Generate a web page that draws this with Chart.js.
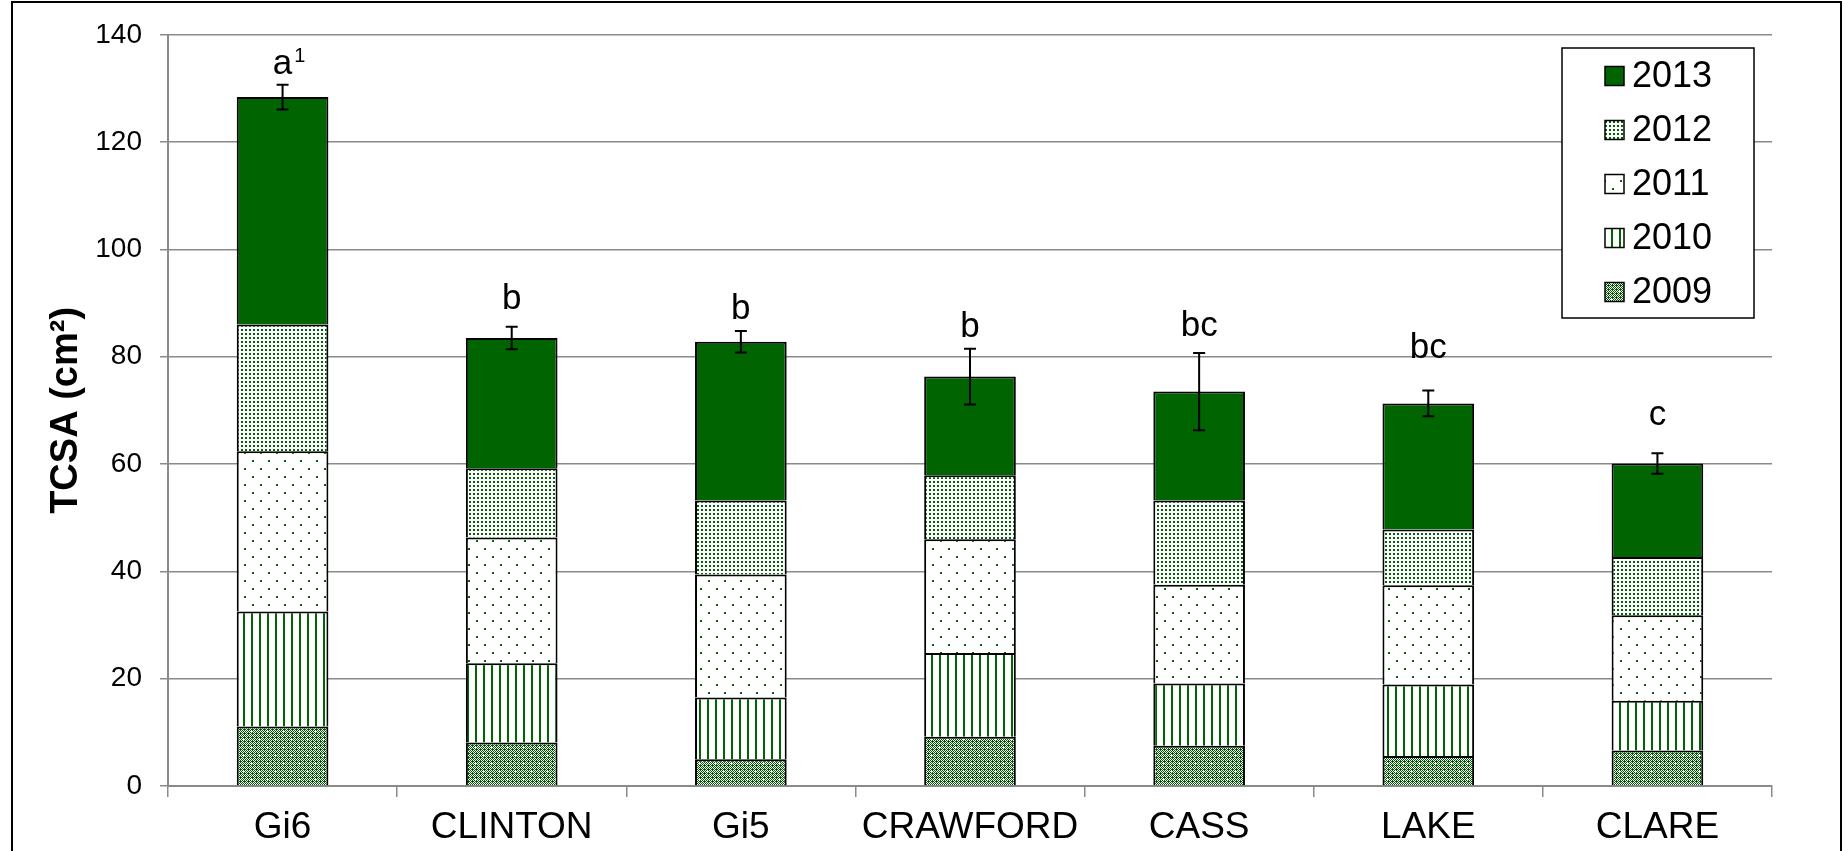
<!DOCTYPE html>
<html>
<head>
<meta charset="utf-8">
<title>TCSA by cultivar</title>
<script src="https://cdn.jsdelivr.net/npm/chart.js@4.4.1/dist/chart.umd.min.js"></script>
<style>
  html, body { margin: 0; padding: 0; background: #fff; }
  canvas { display: block; }
</style>
</head>
<body>
<canvas id="c" width="1845" height="851"></canvas>
<script>
// Categories (cultivars / sources) and yearly TCSA growth increments (cm²)
const categories = ['Gi6', 'CLINTON', 'Gi5', 'CRAWFORD', 'CASS', 'LAKE', 'CLARE'];
const years = ['2009', '2010', '2011', '2012', '2013'];
const growth2009 = [11.1, 8.1, 5.0, 9.2, 7.5, 5.6, 6.6];
const growth2010 = [21.4, 14.8, 11.5, 15.6, 11.6, 13.3, 9.3];
const growth2011 = [29.9, 23.4, 22.9, 21.2, 18.4, 18.5, 15.9];
const growth2012 = [23.6, 12.9, 13.8, 11.9, 15.7, 10.4, 10.9];
const growth2013 = [42.4, 24.3, 29.6, 18.4, 20.3, 23.5, 17.4];
// Standard error of the final total, and mean-separation letters
const stdErr = [2.3, 2.1, 2.0, 5.2, 7.2, 2.4, 1.9];
const letters = ['a', 'b', 'b', 'b', 'bc', 'bc', 'c'];
const letterNotes = ['1', '', '', '', '', '', ''];
const yTickValues = [0, 20, 40, 60, 80, 100, 120, 140];

const FONT = "'Liberation Sans', Arial, Helvetica, sans-serif";
const GREEN = '#006400';
const GRID = '#8a8a8a';

const canvas = document.getElementById('c');
const mainCtx = canvas.getContext('2d');

function tilePattern(w, h, paint) {
  const t = document.createElement('canvas');
  t.width = w; t.height = h;
  const g = t.getContext('2d');
  g.fillStyle = '#ffffff';
  g.fillRect(0, 0, w, h);
  paint(g);
  return mainCtx.createPattern(t, 'repeat');
}

// 2009: fine checkerboard with sparse white flecks
const pat2009 = tilePattern(16, 16, g => {
  g.fillStyle = '#005800';
  for (let y = 0; y < 16; y++) for (let x = 0; x < 16; x++) {
    if ((x + y) % 2 === 0 || (y % 4 === 1 && x % 4 === 0)) g.fillRect(x, y, 1, 1);
  }
  g.fillStyle = '#ffffff';
  g.fillRect(3, 3, 2, 1);
  g.fillRect(11, 11, 2, 1);
});
// 2010: vertical stripes
const pat2010 = tilePattern(8, 4, g => { g.fillStyle = GREEN; g.fillRect(3, 0, 2, 4); });
// 2011: sparse staggered dots
const pat2011 = tilePattern(16, 16, g => {
  g.fillStyle = GREEN;
  g.fillRect(4, 4, 2, 2);
  g.fillRect(12, 12, 2, 2);
});
// 2012: dense dot grid
const pat2012 = tilePattern(4, 4, g => { g.fillStyle = GREEN; g.fillRect(1, 1, 2, 2); });

const series = [growth2009, growth2010, growth2011, growth2012, growth2013];
const fills = [pat2009, pat2010, pat2011, pat2012, GREEN];

const datasets = series.map((vals, i) => ({
  label: years[i],
  data: vals,
  backgroundColor: fills[i],
  borderColor: '#000000',
  borderWidth: 2,
  barPercentage: 0.4,
  categoryPercentage: 1.0
}));

// White page plus the outer frame
const framePlugin = {
  id: 'frame',
  beforeDraw(chart) {
    const ctx = chart.ctx;
    ctx.save();
    ctx.fillStyle = '#ffffff';
    ctx.fillRect(0, 0, chart.width, chart.height);
    ctx.restore();
  },
  afterDraw(chart) {
    const ctx = chart.ctx;
    ctx.save();
    ctx.strokeStyle = '#000000';
    ctx.lineWidth = 2;
    ctx.strokeRect(12, 2, 1829, 900);
    ctx.restore();
  }
};

// Error bars on the stacked totals with significance letters above
const errorPlugin = {
  id: 'errorBars',
  afterDatasetsDraw(chart, args, opts) {
    const ctx = chart.ctx;
    const yScale = chart.scales.y;
    const topMeta = chart.getDatasetMeta(chart.data.datasets.length - 1);
    ctx.save();
    categories.forEach((cat, i) => {
      let total = 0;
      chart.data.datasets.forEach(ds => { total += ds.data[i]; });
      const x = topMeta.data[i].x;
      const yHi = yScale.getPixelForValue(total + stdErr[i]);
      const yLo = yScale.getPixelForValue(total - stdErr[i]);
      const cap = opts.capWidth / 2;
      ctx.strokeStyle = '#000000';
      ctx.lineWidth = 2;
      ctx.beginPath();
      ctx.moveTo(x, yHi); ctx.lineTo(x, yLo);
      ctx.moveTo(x - cap, yHi); ctx.lineTo(x + cap, yHi);
      ctx.moveTo(x - cap, yLo); ctx.lineTo(x + cap, yLo);
      ctx.stroke();
      ctx.fillStyle = '#000000';
      ctx.font = opts.fontSize + 'px ' + FONT;
      ctx.textAlign = 'center';
      ctx.textBaseline = 'alphabetic';
      const base = yHi - opts.gaps[i];
      ctx.fillText(letters[i], x, base);
      if (letterNotes[i]) {
        const w = ctx.measureText(letters[i]).width;
        ctx.font = opts.noteSize + 'px ' + FONT;
        ctx.textAlign = 'left';
        ctx.fillText(letterNotes[i], x + w / 2 + 2, base - opts.noteRaise);
      }
    });
    ctx.restore();
  }
};

// Boxed legend inside the plot area, newest year on top
const legendPlugin = {
  id: 'boxLegend',
  afterDraw(chart, args, opts) {
    const ctx = chart.ctx;
    const b = opts.box;
    ctx.save();
    ctx.fillStyle = '#ffffff';
    ctx.fillRect(b.x, b.y, b.w, b.h);
    ctx.strokeStyle = '#000000';
    ctx.lineWidth = 1.5;
    ctx.strokeRect(b.x, b.y, b.w, b.h);
    const items = chart.data.datasets.slice().reverse();
    ctx.font = opts.fontSize + 'px ' + FONT;
    ctx.textBaseline = 'middle';
    ctx.textAlign = 'left';
    items.forEach((ds, k) => {
      const cy = opts.firstRow + k * opts.rowGap;
      const s = opts.swatch;
      ctx.fillStyle = ds.backgroundColor;
      ctx.fillRect(opts.swatchX, cy - s / 2, s, s);
      ctx.strokeStyle = '#000000';
      ctx.lineWidth = 1.5;
      ctx.strokeRect(opts.swatchX, cy - s / 2, s, s);
      ctx.fillStyle = '#000000';
      ctx.fillText(ds.label, opts.textX, cy + 1);
    });
    ctx.restore();
  }
};

new Chart(canvas, {
  type: 'bar',
  data: { labels: categories, datasets },
  plugins: [framePlugin, errorPlugin, legendPlugin],
  options: {
    responsive: false,
    animation: false,
    devicePixelRatio: 1,
    layout: { padding: { left: 0, top: 32, right: 73, bottom: 0 } },
    plugins: {
      legend: { display: false },
      tooltip: { enabled: false },
      errorBars: { capWidth: 12, fontSize: 35, noteSize: 20, noteRaise: 12, gaps: [11, 18, 12, 12, 17, 33, 28] },
      boxLegend: {
        box: { x: 1562, y: 48, w: 192, h: 270 },
        firstRow: 76, rowGap: 54, swatch: 19, swatchX: 1605, textX: 1632, fontSize: 36
      }
    },
    scales: {
      x: {
        stacked: true,
        border: { display: true, color: GRID, width: 2 },
        grid: { display: true, drawOnChartArea: false, drawTicks: true, tickLength: 11, offset: true, color: GRID, lineWidth: 1.5 },
        ticks: { color: '#000000', font: { family: FONT, size: 37 }, padding: 9, maxRotation: 0, autoSkip: false },
        afterFit(scale) { scale.height = 65; }
      },
      y: {
        stacked: true,
        min: 0,
        max: 140,
        afterBuildTicks(scale) { scale.ticks = yTickValues.map(v => ({ value: v })); },
        border: { display: true, color: GRID, width: 2 },
        grid: { color: GRID, lineWidth: 1.5, tickLength: 8 },
        ticks: { color: '#000000', font: { family: FONT, size: 28 }, padding: 18 },
        title: {
          display: true,
          text: 'TCSA (cm\u00B2)',
          color: '#000000',
          font: { family: FONT, size: 38, weight: 'bold' },
          padding: { top: 44, bottom: 0 }
        },
        afterFit(scale) { scale.width = 168; }
      }
    }
  }
});
</script>
</body>
</html>
